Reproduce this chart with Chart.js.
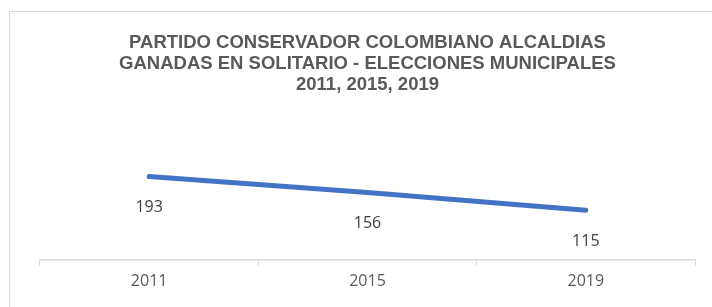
<!DOCTYPE html>
<html lang="es">
<head>
    <meta charset="UTF-8">
    <title>Partido Conservador - Alcaldías</title>
    <script src="https://cdn.jsdelivr.net/npm/chart.js"></script>
    <style>
        html, body {
            margin: 0;
            padding: 0;
            background: #fff;
            overflow: hidden;
        }
        #wrap {
            position: relative;
            width: 712px;
            height: 307px;
            overflow: hidden;
        }
        #frame {
            position: absolute;
            left: 9px;
            top: 11px;
            width: 720px;
            height: 320px;
            border: 1px solid #d9d9d9;
        }
        canvas {
            position: absolute;
            left: 0;
            top: 0;
        }
    </style>
</head>
<body>
<div id="wrap">
    <div id="frame"></div>
    <canvas id="chart" width="712" height="307"></canvas>
</div>

<script>
    const titulo = [
        "PARTIDO CONSERVADOR COLOMBIANO ALCALDIAS",
        "GANADAS EN SOLITARIO - ELECCIONES MUNICIPALES",
        "2011, 2015, 2019"
    ];
    const anios = ["2011", "2015", "2019"];
    const alcaldias = [193, 156, 115];

    // etiquetas de datos debajo de cada punto
    const etiquetas = {
        id: "etiquetas",
        afterDatasetsDraw(chart) {
            const ctx = chart.ctx;
            const meta = chart.getDatasetMeta(0);
            ctx.save();
            ctx.font = "16px 'Open Sans'";
            ctx.fillStyle = "#404040";
            ctx.textAlign = "center";
            ctx.textBaseline = "middle";
            meta.data.forEach((pt, i) => {
                ctx.fillText(String(alcaldias[i]), pt.x, pt.y + 31);
            });
            ctx.restore();
        }
    };

    new Chart(document.getElementById("chart"), {
        type: "line",
        data: {
            labels: anios,
            datasets: [{
                data: alcaldias,
                borderColor: "#4472C4",
                borderWidth: 5,
                borderCapStyle: "round",
                pointRadius: 0,
                tension: 0,
                fill: false
            }]
        },
        options: {
            responsive: false,
            animation: false,
            layout: {
                padding: { left: 40, right: 17, top: 0, bottom: 10 }
            },
            plugins: {
                legend: { display: false },
                tooltip: { enabled: false },
                title: {
                    display: true,
                    text: titulo,
                    color: "#595959",
                    font: { family: "'Liberation Sans', Arial, sans-serif", size: 18.5, weight: "bold", lineHeight: 1.135 },
                    padding: { top: 32, bottom: 57 }
                }
            },
            scales: {
                x: {
                    offset: true,
                    grid: {
                        offset: true,
                        drawOnChartArea: false,
                        drawTicks: true,
                        tickLength: 6,
                        color: "#d9d9d9",
                        lineWidth: 1
                    },
                    border: { display: true, color: "#d9d9d9", width: 1.5 },
                    ticks: {
                        color: "#595959",
                        font: { family: "'Open Sans', sans-serif", size: 16 },
                        padding: 6
                    }
                },
                y: {
                    display: false,
                    min: 0,
                    max: 250
                }
            }
        },
        plugins: [etiquetas]
    });
</script>
</body>
</html>
